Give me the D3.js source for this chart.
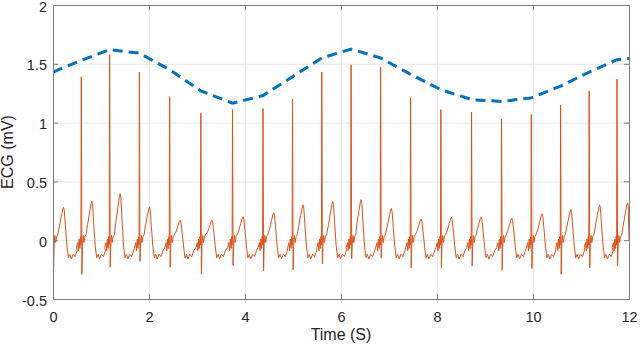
<!DOCTYPE html>
<html>
<head>
<meta charset="utf-8">
<script src="https://cdn.jsdelivr.net/npm/d3@7"></script>
<style>
  body { margin: 0; background: #fff; }
  svg text { font-family: "Liberation Sans", Arial, Helvetica, sans-serif; fill: #262626; }
</style>
</head>
<body>
<div id="chart"></div>
<script>
// R peaks (time in s, value in mV)
var rTime = [0.0, 0.59, 1.18, 1.80, 2.43, 3.08, 3.74, 4.375, 4.99, 5.60, 6.21, 6.825, 7.45, 8.08, 8.72, 9.345, 9.965, 10.575, 11.17, 11.75];
var rPeak = [1.22, 1.39, 1.58, 1.43, 1.22, 1.08, 1.11, 1.12, 1.20, 1.43, 1.49, 1.47, 1.21, 1.11, 1.09, 1.03, 1.07, 1.15, 1.27, 1.37];
// S dips just after each R
var sDip = [-0.24, -0.29, -0.23, -0.18, -0.23, -0.29, -0.215, -0.26, -0.25, -0.20, -0.16, -0.15, -0.235, -0.235, -0.22, -0.255, -0.24, -0.29, -0.235, -0.22];
// T waves
var tTime = [0.22, 0.81, 1.40, 2.01, 2.65, 3.31, 3.96, 4.60, 5.21, 5.83, 6.42, 7.05, 7.67, 8.30, 8.92, 9.56, 10.19, 10.79, 11.39, 11.97];
var tPeak = [0.28, 0.33, 0.395, 0.28, 0.17, 0.17, 0.20, 0.233, 0.30, 0.33, 0.346, 0.27, 0.18, 0.196, 0.196, 0.187, 0.224, 0.26, 0.30, 0.318];
var ecgEnd = [12, 0.0];

// dashed curve
var envTime = [0, 0.59, 1.18, 1.80, 2.43, 3.08, 3.74, 4.375, 4.99, 5.60, 6.21, 6.825, 7.45, 8.08, 8.72, 9.345, 9.965, 10.575, 11.17, 11.75, 12];
var envValue = [1.43, 1.53, 1.62, 1.59, 1.45, 1.27, 1.165, 1.23, 1.39, 1.55, 1.625, 1.55, 1.41, 1.28, 1.195, 1.18, 1.21, 1.31, 1.43, 1.535, 1.545];

var xTicks = [0, 2, 4, 6, 8, 10, 12];
var yTicks = [-0.5, 0, 0.5, 1, 1.5, 2];
var yTickLabels = ["-0.5", "0", "0.5", "1", "1.5", "2"];

var margin = {top: 5, right: 11, bottom: 48, left: 53},
    width = 640 - margin.left - margin.right,
    height = 347 - margin.top - margin.bottom;

var svg = d3.select("#chart").append("svg")
    .attr("width", 640)
    .attr("height", 347);

var g = svg.append("g")
    .attr("transform", "translate(" + margin.left + "," + margin.top + ")");

var x = d3.scaleLinear().domain([0, 12]).range([0, width]);
var y = d3.scaleLinear().domain([-0.5, 2]).range([height, 0]);

// grid
g.append("g")
  .attr("class", "grid")
  .attr("transform", "translate(0," + height + ")")
  .call(d3.axisBottom(x).tickValues(xTicks).tickSize(-height).tickFormat(""));
g.append("g")
  .attr("class", "grid")
  .call(d3.axisLeft(y).tickValues(yTicks).tickSize(-width).tickFormat(""));
g.selectAll(".grid .domain").remove();
g.selectAll(".grid line").attr("stroke", "#e6e6e6");

// build the ECG trace from the beat landmarks
function beatPoints(i) {
  var r = rTime[i], t = tTime[i], tp = tPeak[i];
  return [
    [r - 0.10, -0.06], [r - 0.075, -0.02], [r - 0.06, -0.09], [r - 0.045, 0.01],
    [r - 0.03, -0.07], [r - 0.018, 0.03], [r - 0.008, -0.04],
    [r, rPeak[i]], [r + 0.012, sDip[i]],
    [r + 0.025, -0.03], [r + 0.04, 0.04], [r + 0.055, -0.02], [r + 0.075, 0.03], [r + 0.1, 0.05],
    [t - 0.09, tp * 0.4], [t - 0.05, tp * 0.7], [t - 0.015, tp * 0.95], [t, tp], [t + 0.015, tp * 0.9],
    [t + 0.04, tp * 0.4], [t + 0.07, -0.05], [t + 0.1, -0.15], [t + 0.13, -0.12], [t + 0.16, -0.16],
    [t + 0.2, -0.12], [t + 0.24, -0.14], [t + 0.28, -0.09]
  ];
}
var ecg = [];
rTime.forEach(function(d, i) {
  beatPoints(i).forEach(function(p) {
    if (p[0] >= 0 && p[0] < ecgEnd[0]) ecg.push(p);
  });
});
ecg.push(ecgEnd);

var env = envTime.map(function(d, i) { return [d, envValue[i]]; });

svg.append("defs").append("clipPath").attr("id", "plotclip")
  .append("rect").attr("width", width).attr("height", height);

var line = d3.line()
  .x(function(d) { return x(d[0]); })
  .y(function(d) { return y(d[1]); });

var plot = g.append("g").attr("clip-path", "url(#plotclip)");

plot.append("path")
  .datum(ecg)
  .attr("fill", "none")
  .attr("stroke", "#D95319")
  .attr("stroke-width", 1)
  .attr("stroke-linejoin", "round")
  .attr("d", line);

plot.append("path")
  .datum(env)
  .attr("fill", "none")
  .attr("stroke", "#0072BD")
  .attr("stroke-width", 3)
  .attr("stroke-dasharray", "10,6")
  .attr("d", line);

// axes, ticks pointing inward, box on
var xAxis = g.append("g")
  .attr("transform", "translate(0," + height + ")")
  .call(d3.axisBottom(x).tickValues(xTicks).tickSize(-5).tickPadding(13).tickFormat(d3.format("d")));
var yAxis = g.append("g")
  .call(d3.axisLeft(y).tickValues(yTicks).tickSize(-5).tickPadding(6)
    .tickFormat(function(d, i) { return yTickLabels[i]; }));
yAxis.selectAll("text").attr("dy", "0.42em");
var topAxis = g.append("g")
  .call(d3.axisTop(x).tickValues(xTicks).tickSize(-5).tickFormat(""));
var rightAxis = g.append("g")
  .attr("transform", "translate(" + width + ",0)")
  .call(d3.axisRight(y).tickValues(yTicks).tickSize(-5).tickFormat(""));

[xAxis, yAxis, topAxis, rightAxis].forEach(function(a) {
  a.selectAll(".domain").attr("stroke", "#7a7a7a");
  a.selectAll(".tick line").attr("stroke", "#7a7a7a");
  a.selectAll("text").attr("font-size", "14.5px").style("font-family", null);
});

g.append("text")
  .attr("x", width / 2)
  .attr("y", height + 41)
  .attr("text-anchor", "middle")
  .attr("font-size", "16px")
  .text("Time (S)");

svg.append("text")
  .attr("transform", "translate(13," + (margin.top + height / 2) + ") rotate(-90)")
  .attr("text-anchor", "middle")
  .attr("font-size", "16px")
  .text("ECG (mV)");
</script>
</body>
</html>
